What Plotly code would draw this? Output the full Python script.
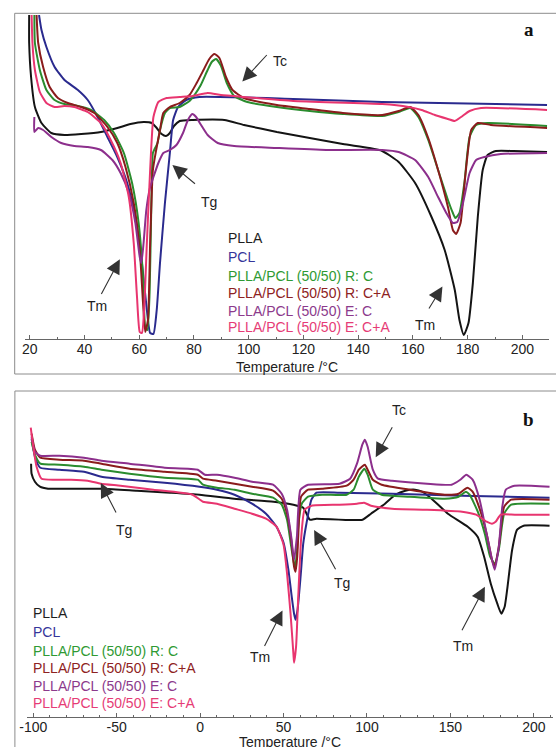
import plotly.graph_objects as go

# ---------------- Panel a (heating scan, 20-210 °C) ----------------
a_ticks = [20, 40, 60, 80, 100, 120, 140, 160, 180, 200]

a_plla_T = [19.8, 19.8, 20.5, 21.9, 24.3, 27.9, 32.7, 38.8, 46.0, 52.0, 56.8, 61.6, 64.6, 66.4, 68.2, 69.8, 71.2, 72.7, 74.8, 79.6, 91.1, 98.3, 110.3, 122.3, 134.4, 144.0, 148.8, 154.8, 160.8, 166.8, 171.6, 175.3, 177.0, 178.6, 180.3, 181.9, 183.7, 185.5, 187.3, 190.3, 196.9, 209.0]
a_plla_hf = [32.4, 29.6, 26.2, 23.2, 21.6, 20.6, 20.4, 20.5, 20.7, 21.1, 21.5, 21.7, 21.6, 21.1, 20.5, 20.3, 20.6, 21.3, 21.8, 21.9, 21.9, 21.4, 20.7, 20.1, 19.5, 19.1, 18.8, 17.7, 15.6, 12.2, 8.9, 4.9, 1.9, 0.4, 1.6, 5.6, 12.2, 16.9, 18.4, 18.8, 18.8, 18.7]

a_pcl_T = [23.4, 24.3, 26.1, 29.1, 32.7, 37.6, 41.2, 44.8, 48.4, 52.0, 55.6, 58.6, 61.0, 62.8, 64.0, 65.2, 66.4, 67.6, 69.4, 71.2, 72.4, 74.2, 77.2, 82.0, 116.3, 148.8, 209.0]
a_pcl_hf = [32.4, 30.9, 29.2, 27.2, 25.9, 24.9, 23.9, 22.2, 20.2, 18.2, 15.6, 12.2, 7.6, 2.9, 0.6, 0.5, 2.9, 7.6, 13.6, 18.6, 21.9, 23.2, 23.9, 24.2, 24.0, 23.7, 23.4]

a_rc_T = [21.7, 21.9, 23.7, 26.1, 29.1, 32.7, 37.6, 42.4, 47.2, 50.8, 54.4, 57.4, 59.8, 61.4, 62.2, 63.0, 63.8, 64.4, 65.0, 65.8, 66.7, 67.6, 69.4, 71.2, 74.8, 78.4, 80.2, 82.5, 85.0, 86.5, 88.1, 89.9, 92.0, 94.7, 99.5, 110.3, 122.3, 134.4, 148.8, 154.8, 159.0, 162.0, 165.6, 169.2, 172.8, 174.6, 175.5, 177.0, 178.8, 180.7, 183.1, 187.3, 209.0]
a_rc_hf = [32.4, 29.6, 26.9, 24.9, 23.9, 23.5, 23.3, 22.9, 21.9, 20.6, 18.6, 15.6, 11.6, 6.2, 1.2, 0.9, 4.6, 12.9, 18.6, 19.1, 19.6, 20.9, 22.6, 23.1, 23.2, 23.8, 24.4, 25.4, 26.9, 27.7, 28.0, 27.3, 25.6, 24.3, 23.7, 23.2, 22.8, 22.5, 22.3, 22.7, 23.1, 22.2, 19.9, 16.9, 13.9, 12.6, 12.1, 12.6, 15.6, 20.2, 21.4, 21.6, 21.3]

a_rca_T = [22.5, 23.1, 24.9, 27.3, 30.3, 33.9, 38.8, 43.6, 48.4, 52.0, 55.0, 58.0, 60.2, 61.4, 62.2, 63.2, 64.0, 65.0, 66.2, 67.6, 68.8, 71.2, 74.8, 78.4, 81.0, 83.5, 85.6, 87.5, 89.3, 91.7, 94.1, 98.3, 110.3, 122.3, 134.4, 148.8, 154.8, 159.0, 162.0, 165.6, 169.2, 172.8, 174.6, 175.8, 177.4, 179.1, 181.3, 183.7, 188.5, 209.0]
a_rca_hf = [32.4, 29.6, 27.2, 25.2, 24.1, 23.6, 23.2, 22.6, 21.2, 19.6, 17.2, 13.6, 8.9, 3.6, 0.7, 1.9, 9.6, 16.9, 18.9, 20.9, 22.6, 23.2, 23.6, 24.4, 25.6, 26.9, 28.0, 28.5, 28.1, 26.2, 24.9, 24.1, 23.4, 23.0, 22.6, 22.4, 22.8, 23.2, 22.4, 20.1, 16.9, 13.2, 10.9, 10.5, 11.6, 16.2, 20.9, 21.6, 21.4, 21.1]

a_ec_T = [21.7, 21.7, 23.1, 24.9, 27.9, 31.5, 36.3, 41.2, 46.0, 50.2, 53.2, 56.2, 58.6, 60.2, 60.8, 61.6, 62.6, 64.0, 65.2, 67.0, 68.8, 71.2, 73.6, 76.0, 77.8, 79.4, 80.8, 82.6, 85.0, 88.7, 94.7, 110.3, 128.3, 148.8, 154.8, 160.8, 165.6, 169.2, 172.2, 174.6, 176.2, 178.3, 180.7, 183.1, 186.1, 192.1, 209.0]
a_ec_hf = [22.2, 20.7, 21.1, 20.9, 20.2, 19.6, 19.3, 19.2, 18.9, 17.9, 16.6, 14.6, 11.6, 8.2, 7.6, 9.6, 12.9, 15.2, 16.2, 17.6, 18.6, 18.9, 19.4, 20.6, 21.9, 22.5, 22.2, 21.4, 20.4, 19.6, 19.3, 19.1, 18.9, 18.9, 18.7, 17.9, 16.2, 14.2, 12.6, 11.6, 11.7, 13.6, 16.6, 17.9, 18.2, 18.5, 18.6]

a_eca_T = [20.7, 21.0, 21.9, 23.7, 26.1, 29.1, 32.7, 36.3, 41.2, 46.0, 49.6, 53.2, 56.2, 58.0, 59.2, 60.2, 61.0, 61.8, 62.8, 64.0, 65.2, 67.0, 70.0, 74.8, 79.6, 85.0, 89.9, 98.3, 116.3, 148.8, 158.4, 163.2, 168.0, 172.8, 175.3, 177.6, 180.7, 184.9, 209.0]
a_eca_hf = [32.4, 29.6, 26.9, 24.7, 23.6, 23.2, 23.3, 23.2, 22.7, 21.6, 19.9, 17.6, 14.2, 9.6, 4.2, 0.7, 0.6, 2.9, 9.6, 16.9, 22.2, 23.7, 24.1, 24.2, 24.3, 24.6, 24.4, 24.2, 23.8, 23.5, 23.2, 22.9, 22.4, 22.0, 21.8, 22.2, 22.8, 23.1, 22.9]

# ---------------- Panel b (-100-210 °C) ----------------
b_ticks = [-100, -50, 0, 50, 100, 150, 200]

b_plla_T = [-101.3, -101.0, -99.0, -96.0, -91.1, -77.3, -57.5, -37.8, -18.1, -0.4, 20.4, 44.0, 55.9, 61.8, 64.1, 65.7, 69.7, 97.3, 102.4, 110.8, 117.1, 123.0, 128.8, 133.0, 138.7, 148.5, 160.4, 166.3, 170.2, 174.2, 178.1, 180.5, 182.5, 184.0, 187.0, 190.0, 193.9, 209.4]
b_plla_hf = [25.3, 24.3, 23.5, 23.0, 22.8, 22.8, 22.8, 22.6, 22.4, 22.2, 21.8, 21.5, 21.2, 20.9, 20.2, 19.7, 19.8, 19.7, 20.3, 21.3, 22.2, 22.6, 22.7, 22.5, 21.8, 20.3, 19.0, 18.0, 16.0, 13.3, 11.3, 10.3, 11.0, 12.7, 16.7, 18.7, 19.1, 19.1]

b_pcl_T = [-101.0, -99.0, -95.8, -84.3, -69.6, -59.1, -42.3, -21.3, -0.4, 10.1, 20.6, 31.1, 39.5, 45.8, 50.0, 52.9, 54.9, 56.3, 57.2, 58.4, 60.2, 61.8, 63.7, 66.7, 69.7, 83.6, 115.0, 157.0, 209.4]
b_pcl_hf = [27.8, 26.0, 24.9, 24.7, 24.5, 24.0, 23.7, 23.4, 23.0, 22.7, 22.2, 21.3, 20.3, 19.0, 17.4, 14.7, 12.0, 10.3, 9.7, 10.7, 14.0, 17.3, 19.3, 21.7, 22.4, 22.4, 22.3, 22.1, 21.9]

b_rc_T = [-101.0, -99.0, -95.8, -84.3, -69.6, -59.1, -42.3, -21.3, -1.4, 1.7, 10.1, 20.6, 31.1, 43.7, 48.9, 52.1, 54.6, 56.3, 57.0, 58.0, 58.8, 60.9, 64.7, 73.1, 87.8, 92.0, 95.1, 98.5, 100.4, 103.5, 108.8, 125.5, 146.5, 154.9, 159.3, 161.5, 166.4, 170.6, 173.8, 176.6, 179.0, 182.2, 186.4, 209.4]
b_rc_hf = [27.5, 26.2, 25.3, 25.2, 25.0, 24.7, 24.3, 23.9, 23.7, 23.2, 22.9, 22.7, 22.3, 21.9, 21.2, 19.7, 17.0, 15.3, 15.0, 16.5, 19.0, 21.3, 22.0, 22.2, 22.2, 22.7, 24.0, 24.8, 24.2, 22.7, 22.2, 22.0, 21.8, 22.0, 22.5, 22.2, 20.5, 18.3, 16.0, 15.3, 16.7, 20.3, 21.2, 21.3]

b_rca_T = [-101.0, -99.0, -95.8, -84.3, -69.6, -59.1, -42.3, -21.3, -1.4, 1.7, 10.1, 20.6, 31.1, 43.7, 48.9, 52.1, 54.6, 56.3, 57.2, 58.2, 58.8, 60.5, 64.7, 73.1, 87.8, 92.0, 95.1, 98.7, 100.4, 103.5, 108.8, 125.5, 146.5, 154.9, 160.2, 163.3, 167.5, 171.7, 174.9, 176.5, 179.0, 182.2, 186.4, 209.4]
b_rca_hf = [28.3, 26.7, 25.9, 25.7, 25.6, 25.3, 24.8, 24.5, 24.2, 23.8, 23.6, 23.3, 23.0, 22.6, 21.8, 20.3, 17.7, 15.0, 14.5, 16.0, 18.0, 22.0, 22.7, 22.8, 23.1, 23.7, 24.7, 25.2, 24.7, 23.7, 23.2, 22.7, 22.2, 22.3, 22.9, 22.5, 20.8, 18.3, 15.7, 15.0, 17.0, 21.0, 21.7, 21.7]

b_ec_T = [-101.0, -99.0, -95.8, -84.3, -69.6, -59.1, -42.3, -21.3, -1.4, 2.8, 10.1, 20.6, 31.1, 43.7, 48.9, 52.1, 54.6, 56.3, 58.0, 60.1, 64.7, 83.6, 89.9, 94.0, 97.2, 98.7, 100.4, 103.5, 106.6, 115.0, 136.0, 150.7, 155.9, 159.5, 163.3, 167.5, 171.7, 174.9, 176.5, 179.0, 181.1, 183.2, 188.4, 209.4]
b_ec_hf = [28.0, 26.5, 26.1, 26.1, 25.9, 25.6, 25.3, 24.9, 24.7, 24.2, 24.2, 23.9, 23.5, 23.2, 22.3, 20.7, 18.0, 15.7, 18.0, 22.7, 23.2, 23.3, 23.8, 25.3, 27.2, 27.7, 27.0, 24.7, 23.8, 23.6, 23.3, 23.2, 23.7, 24.2, 23.7, 21.7, 18.3, 15.7, 14.7, 17.0, 21.0, 22.7, 23.1, 23.0]

b_eca_T = [-101.5, -100.0, -98.0, -95.0, -87.1, -77.3, -67.4, -59.5, -47.7, -28.0, -4.5, 1.7, 10.1, 20.6, 31.1, 39.5, 45.8, 50.0, 52.1, 54.2, 55.9, 56.3, 57.5, 58.8, 60.5, 62.6, 66.8, 83.6, 94.0, 98.3, 102.4, 115.0, 136.0, 157.0, 165.4, 171.7, 174.9, 177.1, 180.2, 188.6, 209.4]
b_eca_hf = [28.9, 27.0, 25.0, 23.8, 23.7, 23.7, 23.6, 23.3, 23.1, 22.7, 22.2, 21.5, 21.3, 20.8, 20.3, 19.8, 19.0, 17.2, 14.3, 10.3, 6.3, 5.4, 7.0, 12.0, 17.7, 20.7, 21.1, 21.2, 21.3, 21.4, 21.1, 20.8, 20.7, 20.5, 20.2, 19.5, 19.3, 19.5, 20.2, 20.2, 20.2]

series_names = ["PLLA", "PCL", "PLLA/PCL (50/50) R: C", "PLLA/PCL (50/50) R: C+A",
                "PLLA/PCL (50/50) E: C", "PLLA/PCL (50/50) E: C+A"]
line_colors = ["#141414", "#2a2a8e", "#2a8c2e", "#8a1c1c", "#8c2f8c", "#e8356f"]
text_colors = ["#1e1e1e", "#35359a", "#2f9a33", "#8e2222", "#8c3a8c", "#e63c76"]

a_series = [(a_plla_T, a_plla_hf), (a_pcl_T, a_pcl_hf), (a_rc_T, a_rc_hf),
            (a_rca_T, a_rca_hf), (a_ec_T, a_ec_hf), (a_eca_T, a_eca_hf)]
b_series = [(b_plla_T, b_plla_hf), (b_pcl_T, b_pcl_hf), (b_rc_T, b_rc_hf),
            (b_rca_T, b_rca_hf), (b_ec_T, b_ec_hf), (b_eca_T, b_eca_hf)]

W, H = 556, 747
def px(x):
    return x / W
def py(y):
    return 1 - y / H

fig = go.Figure()
for (t, v), name, col in zip(a_series, series_names, line_colors):
    fig.add_trace(go.Scatter(x=t, y=v, mode="lines", name=name, xaxis="x", yaxis="y",
                             line=dict(color=col, width=2, shape="spline", smoothing=0.5),
                             showlegend=False))
for (t, v), name, col in zip(b_series, series_names, line_colors):
    fig.add_trace(go.Scatter(x=t, y=v, mode="lines", name=name, xaxis="x2", yaxis="y2",
                             line=dict(color=col, width=2, shape="spline", smoothing=0.5),
                             showlegend=False))

FONT = "Liberation Sans, Arial, sans-serif"
axis_common = dict(showline=True, linecolor="#666", linewidth=1, ticks="inside", ticklen=4,
                   tickcolor="#666", showgrid=False, zeroline=False, ticklabelstandoff=-3,
                   tickfont=dict(family=FONT, size=14, color="#222"))

fig.update_layout(
    width=W, height=H, margin=dict(l=0, r=0, t=0, b=0),
    paper_bgcolor="white", plot_bgcolor="white", showlegend=False,
    xaxis=dict(domain=[px(18.4), px(549)], range=[18.34, 209.75], anchor="y",
               tickvals=a_ticks, ticktext=[str(t) for t in a_ticks],
               minor=dict(ticks="inside", ticklen=2, dtick=10, tick0=0, tickcolor="#666"),
               **axis_common),
    yaxis=dict(domain=[py(339), py(15)], range=[0, 32.4], visible=False),
    xaxis2=dict(domain=[px(20), px(553)], range=[-103.9, 211.5], anchor="y2",
                tickvals=b_ticks, ticktext=[str(t) for t in b_ticks],
                minor=dict(ticks="inside", ticklen=2, dtick=10, tick0=0, tickcolor="#666"),
                **axis_common),
    yaxis2=dict(domain=[py(716.7), py(395)], range=[0, 32.17], visible=False),
)

# frames
fig.add_shape(type="rect", xref="paper", yref="paper", x0=px(7.8), x1=px(570),
              y0=py(374), y1=py(13.3), line=dict(color="#8c8c8c", width=1))
fig.add_shape(type="rect", xref="paper", yref="paper", x0=px(8), x1=px(570),
              y0=py(760), y1=py(391), line=dict(color="#8c8c8c", width=1))

ann = []
def text(x, y, s, size=14, color="#222", xanchor="center", family=FONT, bold=False):
    ann.append(dict(x=px(x), y=py(y), xref="paper", yref="paper", text=("<b>%s</b>" % s) if bold else s,
                    showarrow=False, xanchor=xanchor, yanchor="middle",
                    font=dict(family=family, size=size, color=color)))
def arrow(tail, tip):
    ann.append(dict(x=px(tip[0]), y=py(tip[1]), xref="paper", yref="paper", text="",
                    showarrow=True, ax=tail[0] - tip[0], ay=tail[1] - tip[1], axref="pixel", ayref="pixel",
                    arrowhead=2, arrowsize=2.6, arrowwidth=1.1, arrowcolor="#333"))

# axis titles
text(284, 366.5, "Temperature /°C")
text(286.5, 741.5, "Temperature /°C")
# panel letters
text(528.4, 29.3, "a", size=19, color="#111", family="Liberation Serif, serif", bold=True)
text(528.4, 419.3, "b", size=19, color="#111", family="Liberation Serif, serif", bold=True)

# legends
a_leg_y = [238.3, 257.0, 276.0, 293.3, 311.0, 327.0]
b_leg_y = [613.3, 631.7, 650.7, 668.3, 686.0, 703.3]
for name, col, yy in zip(series_names, text_colors, a_leg_y):
    text(221.6, yy, name, color=col, xanchor="left")
for name, col, yy in zip(series_names, text_colors, b_leg_y):
    text(24.1, yy, name, color=col, xanchor="left")

# annotations panel a
text(276.6, 61, "Tc"); arrow((264.2, 53.5), (238.3, 81.5))
text(205, 201.7, "Tg"); arrow((191.6, 185), (167.5, 165))
text(91.1, 306, "Tm"); arrow((95, 295.5), (114.3, 259.3))
text(423.8, 325, "Tm"); arrow((426.6, 310), (441, 286.5))
# annotations panel b
text(397.2, 410, "Tc"); arrow((390.8, 425.7), (373.4, 457.3))
text(118.5, 529.5, "Tg"); arrow((111, 514), (95, 483))
text(339.7, 583.3, "Tg"); arrow((333.3, 570.7), (311, 530))
text(256, 656.7, "Tm"); arrow((260.3, 647.5), (279, 610.5))
text(462, 645.7, "Tm"); arrow((460.3, 631.7), (484, 586.7))

fig.update_layout(annotations=ann)
fig.write_html("out.html", config={"displayModeBar": False},
               post_script="document.body.style.margin='0';document.body.style.overflow='hidden';")
